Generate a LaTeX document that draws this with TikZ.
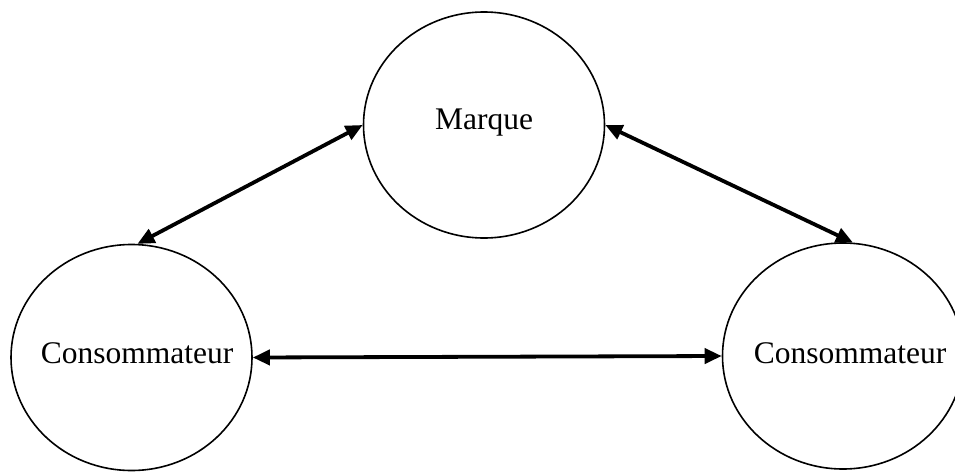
\documentclass[tikz,border=0pt]{standalone}
\usepackage{fontspec}
\setmainfont{Liberation Serif}
\usetikzlibrary{shapes.geometric,arrows.meta}
\tikzset{
  bubble/.style={draw, ellipse, line width=1.6pt, minimum width=241pt, minimum height=226pt, inner sep=0pt},
  lbl/.style={inner sep=0pt, font=\fontsize{31.5pt}{36pt}\selectfont},
  link/.style={line width=3.8pt, {Triangle[length=17pt,width=15pt]}-{Triangle[length=17pt,width=15pt]}}
}
\begin{document}
\begin{tikzpicture}[x=1pt,y=-1pt]
\useasboundingbox[fill=white] (0,0) rectangle (955,471);
\node[bubble] (M) at (484,125) {};
\node[bubble] (L) at (131.5,357.5) {};
\node[bubble] (R) at (843,356) {};
\node[lbl] (Mt) at (484,123) {Marque};
\node[lbl] (Lt) at (137,353) {Consommateur};
\node[lbl] (Rt) at (850,353) {Consommateur};
\draw[link] (L.87) -- (M.west);
\draw[link] (M.east) -- (R.85);
\draw[link] (L.east) -- (R.west);
\end{tikzpicture}
\end{document}
